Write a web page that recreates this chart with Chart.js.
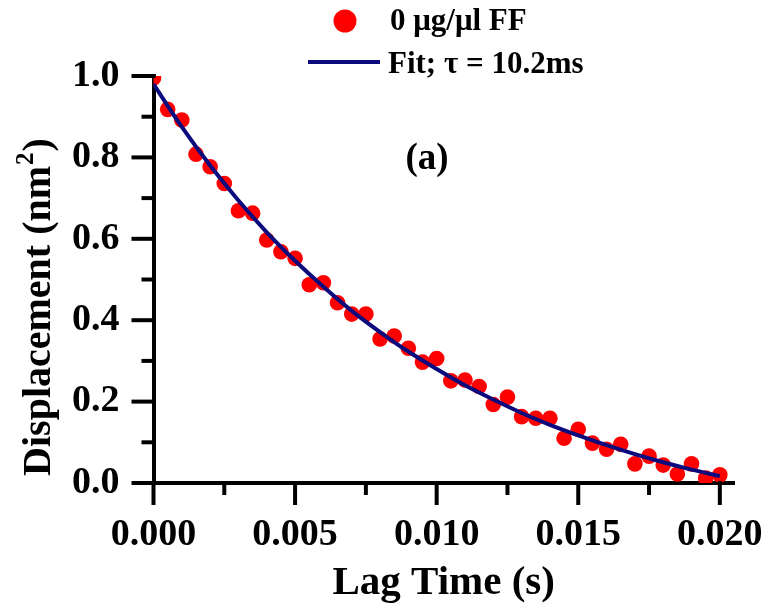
<!DOCTYPE html>
<html><head><meta charset="utf-8">
<script src="https://cdn.jsdelivr.net/npm/chart.js@4"></script>
<style>html,body{margin:0;padding:0;background:#fff;}canvas{display:block}</style>
</head><body>
<canvas id="c" width="767" height="606"></canvas>
<script>
// ---- data ----
const lagTime = [0, 0.0005, 0.001, 0.0015, 0.002, 0.0025, 0.003, 0.0035, 0.004, 0.0045,
  0.005, 0.0055, 0.006, 0.0065, 0.007, 0.0075, 0.008, 0.0085, 0.009, 0.0095,
  0.010, 0.0105, 0.011, 0.0115, 0.012, 0.0125, 0.013, 0.0135, 0.014, 0.0145,
  0.015, 0.0155, 0.016, 0.0165, 0.017, 0.0175, 0.018, 0.0185, 0.019, 0.0195, 0.020];
const displacement = [0.995, 0.918, 0.892, 0.808, 0.777, 0.736, 0.669, 0.663, 0.597, 0.568,
  0.552, 0.487, 0.492, 0.443, 0.415, 0.415, 0.354, 0.361, 0.331, 0.297,
  0.306, 0.251, 0.253, 0.237, 0.193, 0.211, 0.163, 0.159, 0.159, 0.110,
  0.132, 0.098, 0.083, 0.095, 0.047, 0.066, 0.044, 0.022, 0.047, 0.012, 0.020];
const fitTime = [0, 0.001, 0.002, 0.003, 0.004, 0.005, 0.006, 0.007, 0.008, 0.009, 0.010,
  0.011, 0.012, 0.013, 0.014, 0.015, 0.016, 0.017, 0.018, 0.019, 0.020];
const fitValues = [0.980, 0.875, 0.780, 0.694, 0.616, 0.546, 0.482, 0.423, 0.371, 0.323, 0.280,
  0.240, 0.205, 0.172, 0.143, 0.117, 0.093, 0.071, 0.051, 0.033, 0.017];
const xTickValues = [0, 0.0025, 0.005, 0.0075, 0.010, 0.0125, 0.015, 0.0175, 0.020];
const xTickLabels = ['0.000', '', '0.005', '', '0.010', '', '0.015', '', '0.020'];
const yTickValues = [0, 0.1, 0.2, 0.3, 0.4, 0.5, 0.6, 0.7, 0.8, 0.9, 1.0];
const yTickLabels = ['0.0', '', '0.2', '', '0.4', '', '0.6', '', '0.8', '', '1.0'];
const seriesLabel = '0 μg/μl FF';
const fitLabel = 'Fit; τ = 10.2ms';
const xTitle = 'Lag Time (s)';
const yTitleMain = 'Displacement (nm';
const yTitleSup = '2';
const yTitleEnd = ')';
const panelLabel = '(a)';
const panelPos = [0.00966, 0.794];

const FONT = '"Liberation Serif", "Times New Roman", serif';

const decorPlugin = {
  id: 'decor',
  afterDraw(chart) {
    const {ctx, chartArea, scales: {x, y}} = chart;
    ctx.save();
    // tick marks (outward)
    ctx.strokeStyle = '#000'; ctx.lineWidth = 4; ctx.lineCap = 'butt';
    xTickValues.forEach((v, i) => {
      const px = x.getPixelForValue(v);
      const len = xTickLabels[i] ? 22 : 12;
      ctx.beginPath(); ctx.moveTo(px, chartArea.bottom - 2); ctx.lineTo(px, chartArea.bottom + len); ctx.stroke();
    });
    yTickValues.forEach((v, i) => {
      const py = y.getPixelForValue(v);
      const len = yTickLabels[i] ? 22 : 12;
      ctx.beginPath(); ctx.moveTo(chartArea.left + 2, py); ctx.lineTo(chartArea.left - len, py); ctx.stroke();
    });
    // y title with superscript
    ctx.fillStyle = '#000';
    ctx.save();
    ctx.translate(40, 307);
    ctx.rotate(-Math.PI / 2);
    ctx.textBaseline = 'middle';
    ctx.textAlign = 'left';
    const mainFont = 'bold 40px ' + FONT, supFont = 'bold 25px ' + FONT;
    ctx.font = mainFont; const w1 = ctx.measureText(yTitleMain).width; const w3 = ctx.measureText(yTitleEnd).width;
    ctx.font = supFont; const w2 = ctx.measureText(yTitleSup).width;
    let sx = -(w1 + w2 + w3 + 2) / 2;
    ctx.font = mainFont; ctx.fillText(yTitleMain, sx, 0); sx += w1 + 1;
    ctx.font = supFont; ctx.fillText(yTitleSup, sx, -13); sx += w2 + 1;
    ctx.font = mainFont; ctx.fillText(yTitleEnd, sx, 0);
    ctx.restore();
    // panel label
    ctx.font = 'bold 37px ' + FONT; ctx.textAlign = 'center'; ctx.textBaseline = 'middle';
    ctx.fillText(panelLabel, x.getPixelForValue(panelPos[0]), y.getPixelForValue(panelPos[1]));
    // legend
    const ds = chart.data.datasets;
    ctx.font = 'bold 31px ' + FONT; ctx.textAlign = 'left'; ctx.textBaseline = 'alphabetic';
    ctx.fillStyle = ds[0].backgroundColor;
    ctx.beginPath(); ctx.arc(345, 21, 11.5, 0, Math.PI * 2); ctx.fill();
    ctx.fillStyle = '#000'; ctx.fillText(ds[0].label, 390, 30);
    ctx.strokeStyle = ds[1].borderColor; ctx.lineWidth = 4;
    ctx.beginPath(); ctx.moveTo(308, 62); ctx.lineTo(380, 62); ctx.stroke();
    ctx.fillStyle = '#000'; ctx.fillText(ds[1].label, 388, 73);
    ctx.restore();
  }
};

new Chart(document.getElementById('c'), {
  type: 'scatter',
  data: {
    datasets: [
      {
        label: seriesLabel,
        data: lagTime.map((t, i) => ({x: t, y: displacement[i]})),
        backgroundColor: '#ff0000', borderColor: '#ff0000',
        pointRadius: 7.8, pointBorderWidth: 0, showLine: false, order: 1
      },
      {
        label: fitLabel,
        data: fitTime.map((t, i) => ({x: t, y: fitValues[i]})),
        borderColor: '#0b0b7e', backgroundColor: '#0b0b7e',
        showLine: true, pointRadius: 0, borderWidth: 4,
        cubicInterpolationMode: 'monotone', order: 0
      }
    ]
  },
  options: {
    responsive: false, animation: false,
    devicePixelRatio: 1,
    layout: {padding: {top: 76, right: 33, left: 0, bottom: 0}},
    plugins: {legend: {display: false}, tooltip: {enabled: false}},
    scales: {
      x: {
        type: 'linear', min: 0, max: 0.0205, z: 1,
        afterBuildTicks: s => { s.ticks = xTickValues.map(v => ({value: v})); },
        afterFit: s => { s.height = 123; s.paddingLeft = 0; s.paddingRight = 0; },
        grid: {display: true, drawOnChartArea: false, drawTicks: false, color: 'rgba(0,0,0,0)'},
        border: {display: true, color: '#000', width: 4},
        ticks: {
          autoSkip: false, maxRotation: 0, padding: 29, color: '#000',
          font: {family: FONT, size: 38, weight: 'bold'},
          callback: (v, i) => xTickLabels[i]
        },
        title: {display: true, text: xTitle, color: '#000', font: {family: FONT, size: 41, weight: 'bold', lineHeight: 1.1}, padding: {top: 0, bottom: 0}}
      },
      y: {
        type: 'linear', min: 0, max: 1.0, z: 1,
        afterBuildTicks: s => { s.ticks = yTickValues.map(v => ({value: v})); },
        afterFit: s => { s.width = 153.5; s.paddingTop = 0; s.paddingBottom = 0; },
        grid: {display: true, drawOnChartArea: false, drawTicks: false, color: 'rgba(0,0,0,0)'},
        border: {display: true, color: '#000', width: 4},
        ticks: {
          autoSkip: false, padding: 34, color: '#000',
          font: {family: FONT, size: 38, weight: 'bold'},
          callback: (v, i) => yTickLabels[i]
        },
        title: {display: false}
      }
    }
  },
  plugins: [decorPlugin]
});
</script>
</body></html>
